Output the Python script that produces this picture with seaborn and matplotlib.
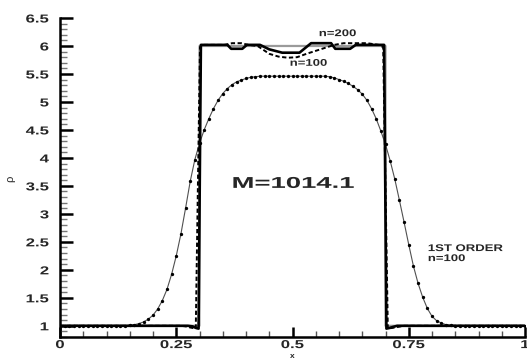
import numpy as np
import pandas as pd
import matplotlib
matplotlib.use("Agg")
import matplotlib.pyplot as plt
import seaborn as sns
from matplotlib.ticker import MultipleLocator, FixedLocator, FixedFormatter
from matplotlib.patheffects import AbstractPathEffect
from matplotlib.transforms import Affine2D

sns.set_style("ticks")
plt.rcParams['font.family'] = ['Liberation Sans', 'DejaVu Sans']

# ---------------- data ----------------
# exact solution (grey)
x_exact = [0.0, 0.2999, 0.3001, 0.6999, 0.7001, 1.0]
rho_exact = [1.0, 1.0, 6.0, 6.0, 1.0, 1.0]

# high-order, n=200 (thick solid)
x_n200 = [0.0, 0.275, 0.285, 0.293, 0.298, 0.303, 0.36, 0.368, 0.392, 0.402, 0.43,
          0.45, 0.478, 0.515, 0.54, 0.583, 0.592, 0.624, 0.636, 0.697, 0.702,
          0.708, 0.716, 0.725, 1.0]
rho_n200 = [1.0, 1.0, 0.99, 0.96, 0.95, 6.02, 6.02, 5.95, 5.95, 6.02, 6.02,
            5.94, 5.88, 5.88, 6.05, 6.05, 5.95, 5.95, 6.02, 6.02, 0.95,
            0.96, 0.98, 1.0, 1.0]

# high-order, n=100 (dashed)
x_n100 = [0.0, 0.26, 0.27, 0.28, 0.292, 0.301, 0.31, 0.355, 0.37, 0.39, 0.405,
          0.425, 0.45, 0.47, 0.49, 0.51, 0.53, 0.56, 0.59, 0.61, 0.66, 0.685,
          0.695, 0.705, 0.72, 0.74, 1.0]
rho_n100 = [1.0, 1.0, 0.99, 0.97, 0.95, 5.98, 6.02, 6.02, 6.05, 6.05, 6.02,
            6.0, 5.86, 5.81, 5.79, 5.80, 5.86, 5.94, 6.02, 6.05, 6.05, 6.02,
            5.98, 0.95, 0.97, 1.0, 1.0]

# first order, n=100 (thin line with dots)
x_first = [round(0.01 * i, 2) for i in range(101)]
rho_first = (
    [1.00] * 14 +
    [1.00, 1.01, 1.02, 1.04, 1.07, 1.12, 1.19, 1.30, 1.45, 1.65,
     1.92, 2.25, 2.64, 3.10, 3.58, 3.97, 4.26, 4.50, 4.70, 4.88,
     5.03, 5.15, 5.24, 5.31, 5.36, 5.39, 5.42, 5.44, 5.45, 5.46] +
    [5.46] * 7 +
    [5.46] * 7 +
    [5.45, 5.43, 5.40, 5.37, 5.33, 5.28, 5.22, 5.14, 5.03, 4.88,
     4.70, 4.48, 4.24, 3.95, 3.62, 3.24, 2.85, 2.45, 2.07, 1.76,
     1.51, 1.31, 1.17, 1.09, 1.05, 1.02, 1.01, 1.00] +
    [1.00] * 15
)

x_ticks = [0, 0.25, 0.5, 0.75, 1]
x_ticklabels = ["0", "0.25", "0.5", "0.75", "1"]
y_ticks = [1, 1.5, 2, 2.5, 3, 3.5, 4, 4.5, 5, 5.5, 6, 6.5]
y_ticklabels = ["1", "1.5", "2", "2.5", "3", "3.5", "4", "4.5", "5", "5.5", "6", "6.5"]


class Stretch(AbstractPathEffect):
    """Widen glyphs horizontally (the reference font is expanded)."""
    def __init__(self, sx, anchor="left"):
        super().__init__()
        self.sx = sx
        self.anchor = anchor

    def draw_path(self, renderer, gc, tpath, affine, rgbFace=None):
        ext = tpath.get_extents()
        if self.anchor == "left":
            x0 = 0.0
        elif self.anchor == "right":
            x0 = ext.x1
        else:
            x0 = 0.5 * (ext.x0 + ext.x1)
        t = Affine2D().translate(-x0, 0).scale(self.sx, 1).translate(x0, 0) + affine
        renderer.draw_path(gc, tpath, t, rgbFace)


# ---------------- figure ----------------
W, H = 527, 360
fig = plt.figure(figsize=(W / 100, H / 100), dpi=100)
ax = fig.add_axes([60 / W, 23 / H, 465 / W, (337 - 18) / H])

sns.lineplot(x=x_exact, y=rho_exact, ax=ax, sort=False, estimator=None,
             color="#9a9a9a", lw=1.6)
sns.lineplot(x=x_first, y=rho_first, ax=ax, sort=False, estimator=None,
             color="#505050", lw=0.8, marker="o", markersize=2.4,
             markerfacecolor="black", markeredgewidth=0)
sns.lineplot(x=x_n100, y=rho_n100, ax=ax, sort=False, estimator=None,
             color="black", lw=1.4, linestyle=(0, (2.2, 1.3)))
sns.lineplot(x=x_n200, y=rho_n200, ax=ax, sort=False, estimator=None,
             color="black", lw=1.9)

ax.set_xlim(0, 1)
ax.set_ylim(0.8, 6.5)

ax.xaxis.set_major_locator(FixedLocator(x_ticks))
ax.xaxis.set_major_formatter(FixedFormatter(x_ticklabels))
ax.yaxis.set_major_locator(FixedLocator(y_ticks))
ax.yaxis.set_major_formatter(FixedFormatter(y_ticklabels))
ax.xaxis.set_minor_locator(MultipleLocator(0.05))
ax.yaxis.set_minor_locator(MultipleLocator(0.1))

for s in ["top", "right"]:
    ax.spines[s].set_visible(False)
for s in ["left", "bottom"]:
    ax.spines[s].set_linewidth(1.8)
    ax.spines[s].set_color("black")

ax.tick_params(axis="both", which="major", direction="in", width=1.8,
               color="black", labelsize=8.3)
ax.tick_params(axis="y", which="major", length=9, pad=8)
ax.tick_params(axis="x", which="major", length=7, pad=1.5)
ax.tick_params(axis="y", which="minor", direction="in", length=5, width=1,
               color="#777777")
ax.tick_params(axis="x", which="minor", direction="in", length=4, width=1,
               color="#555555")

fig.canvas.draw()
for lab in ax.get_yticklabels():
    lab.set_fontweight("bold")
    lab.set_path_effects([Stretch(1.45, "right")])
for lab in ax.get_xticklabels():
    lab.set_fontweight("bold")
    lab.set_path_effects([Stretch(1.45, "center")])

ax.set_xlabel("x", fontsize=6, fontweight="bold", va="bottom")
ax.xaxis.set_label_coords(0.5, (337 - 359.6) / 319)
ax.set_ylabel("ρ", fontsize=8)
ax.yaxis.set_label_coords((15 - 60) / 465, (337 - 179) / 319)

ax.text(0.369, 3.545, "M=1014.1", fontsize=11.3, fontweight="bold",
        ha="left", va="center", path_effects=[Stretch(1.75, "left")])
ax.text(0.5565, 6.23, "n=200", fontsize=7, fontweight="bold",
        ha="left", va="center", path_effects=[Stretch(1.35, "left")])
ax.text(0.494, 5.70, "n=100", fontsize=7, fontweight="bold",
        ha="left", va="center", path_effects=[Stretch(1.35, "left")])
ax.text(0.791, 2.30, "1ST ORDER\nn=100", fontsize=7, fontweight="bold",
        ha="left", va="center", linespacing=1.0,
        path_effects=[Stretch(1.35, "left")])

fig.savefig("out.png", dpi=100)
